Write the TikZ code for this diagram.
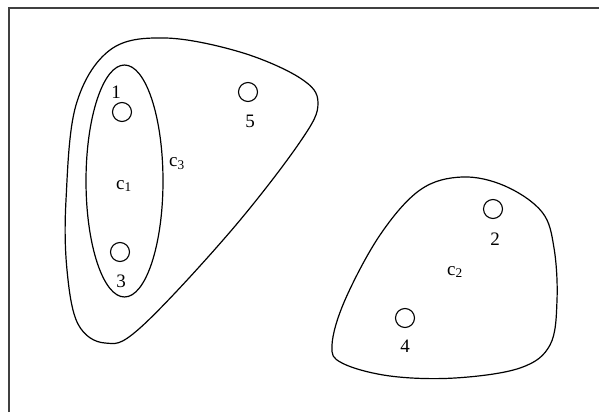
\documentclass[tikz,border=0pt]{standalone}
\usepackage{fontspec}
\setmainfont{Liberation Serif}
\usepackage{tikz}
\usetikzlibrary{positioning}

\begin{document}
\begin{tikzpicture}[x=1pt, y=-1pt,
    point/.style={draw, circle, line width=1.1pt, minimum size=19pt, inner sep=0pt},
    numlabel/.style={inner sep=0pt, font=\fontsize{19}{20}\selectfont},
    clusterlabel/.style={inner sep=0pt, font=\fontsize{19}{20}\selectfont},
    cluster/.style={line width=1.2pt}
]
    \useasboundingbox (0,0) rectangle (599,412);
    % frame
    \draw[line width=2pt, black!75] (8.5,412) -- (8.5,8) -- (599,8);

    % cluster c3
    \draw[cluster] plot[smooth cycle, tension=0.6] coordinates {
        (66,200) (76,105) (110,50) (165,38) (240,52) (300,78) (318,103)
        (300,142) (230,232) (140,328) (105,343) (78,324) (67,270)};
    % cluster c1
    \draw[cluster] (124.5,181) ellipse (38.5 and 116);
    % cluster c2
    \draw[cluster] plot[smooth cycle, tension=0.6] coordinates {
        (462,177) (505,186) (542,212) (554,248) (557,300) (550,345)
        (520,368) (455,378) (390,376) (342,363) (332,345) (345,300)
        (380,235) (420,190)};

    % points
    \node[point] (p1) at (122,112) {};
    \node[point] (p3) at (120,252) {};
    \node[point] (p5) at (248,92) {};
    \node[point] (p2) at (493,209) {};
    \node[point] (p4) at (405,318) {};

    \node[numlabel] (l1) at (116,92) {1};
    \node[numlabel] (l3) at (121,281) {3};
    \node[numlabel] (l5) at (250,121) {5};
    \node[numlabel] (l2) at (495,239) {2};
    \node[numlabel] (l4) at (405,346) {4};

    \node[clusterlabel] (c1) at (124,186) {c\textsubscript{1}};
    \node[clusterlabel] (c3) at (177,164) {c\textsubscript{3}};
    \node[clusterlabel] (c2) at (455,272) {c\textsubscript{2}};
\end{tikzpicture}
\end{document}
